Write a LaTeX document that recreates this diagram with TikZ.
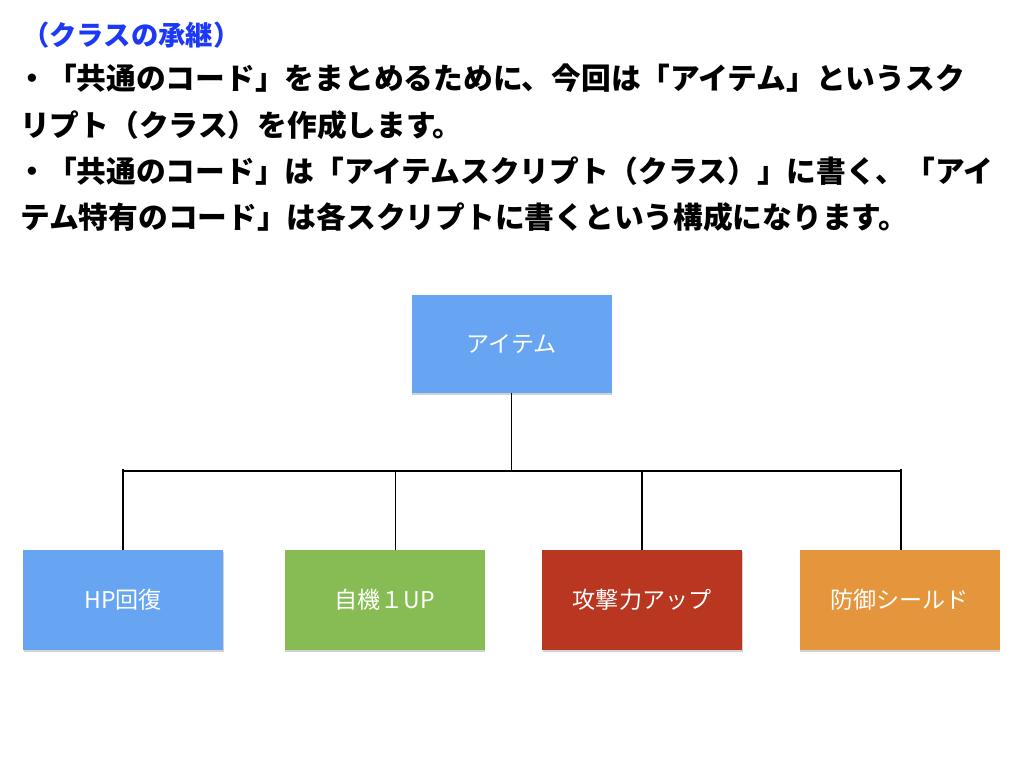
\documentclass[tikz,border=0pt]{standalone}
\usepackage{fontspec}
\setmainfont{Noto Sans CJK JP}
\usetikzlibrary{positioning,shadows}
\definecolor{titleblue}{RGB}{28,58,245}
\definecolor{itemblue}{RGB}{103,165,242}
\definecolor{upgreen}{RGB}{134,188,83}
\definecolor{atkred}{RGB}{185,54,32}
\definecolor{deforange}{RGB}{229,150,60}

\begin{document}
\begin{tikzpicture}[
 x=0.75pt, y=-0.75pt,
 heading/.style={anchor=west, inner sep=0pt, text height=0.88em, text depth=0.12em, font=\fontsize{20.5pt}{24pt}\selectfont\bfseries, text=titleblue},
 body/.style={anchor=west, inner sep=0pt, text height=0.88em, text depth=0.12em, font=\fontsize{22.3pt}{26pt}\selectfont\bfseries},
 box/.style={rectangle, minimum width=150pt, minimum height=75pt, align=center, text=white, font=\fontsize{17.3pt}{20pt}\selectfont, drop shadow={shadow xshift=0.6pt, shadow yshift=-1.5pt, fill=black!35}},
 conn/.style={draw=black, line width=1.4pt}
]
\useasboundingbox (0,0) rectangle (1024,768);

% Heading and text
\node[heading] (title) at (22,40) {（クラスの承継）};
\node[body] (line1) at (17,84) {・「共通のコード」をまとめるために、今回は「アイテム」というスク};
\node[body] (line2) at (20,131) {リプト（クラス）を作成します。};
\node[body] (line3) at (17,177) {・「共通のコード」は「アイテムスクリプト（クラス）」に書く、「アイ};
\node[body] (line4) at (20,223) {テム特有のコード」は各スクリプトに書くという構成になります。};

% Parent class
\node[box, fill=itemblue, minimum height=73.5pt] (item) at (511.5,344) {アイテム};

% Child classes
\node[box, fill=itemblue] (hp) at (123,600) {HP回復};
\node[box, fill=upgreen, right=45.75pt of hp] (lifeup) {自機１UP};
\node[box, fill=atkred, right=42.75pt of lifeup] (attack) {攻撃力アップ};
\node[box, fill=deforange, right=42.75pt of attack] (shield) {防御シールド};

% Connectors
\coordinate (busL) at (123,471);
\coordinate (busR) at (901,471);
\draw[conn] (item.south) -- (item.south |- busL);
\draw[conn] (busL) -- (busR);
\draw[conn] ([yshift=1.5pt]busL) -- (busL |- hp.north);
\draw[conn] ([xshift=8.25pt]lifeup.north |- busL) -- ([xshift=8.25pt]lifeup.north);
\draw[conn] (attack.north |- busL) -- (attack.north);
\draw[conn] ([yshift=1.5pt]busR) -- (busR |- shield.north);

\end{tikzpicture}
\end{document}
